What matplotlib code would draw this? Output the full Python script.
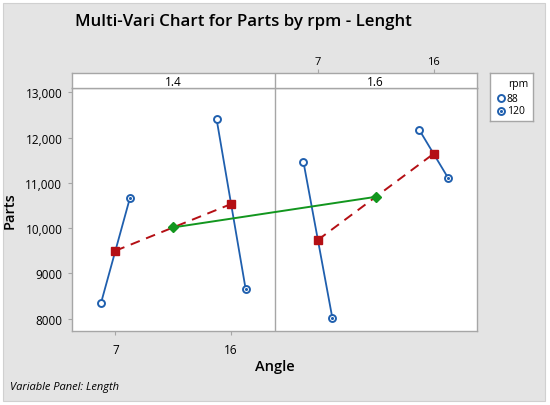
import matplotlib
matplotlib.use("Agg")
import matplotlib.pyplot as plt
from matplotlib.patches import Rectangle
import numpy as np

# ---- data ----
panel_labels = ["1.4", "1.6"]          # Length
angles = [7, 16]                        # Angle
rpm_levels = ["88", "120"]              # rpm
parts_88 = [[8340, 12400], [11465, 12175]]    # [panel][angle]
parts_120 = [[10660, 8665], [8015, 11110]]
yticks = [8000, 9000, 10000, 11000, 12000, 13000]
ytick_labels = ["8000", "9000", "10,000", "11,000", "12,000", "13,000"]

# ---- style ----
BLUE = "#1f5fae"
RED = "#b40f14"
GREEN = "#12961e"
GRID = "#a6a6a6"
BG = "#e4e4e4"
FONT = ["Open Sans", "DejaVu Sans"]
plt.rcParams['font.family'] = FONT

W, H = 550, 406
fig = plt.figure(figsize=(W / 100, H / 100), dpi=100)
fig.patch.set_facecolor("white")
fig.patches.append(Rectangle((3 / W, 4 / H), (545 - 3) / W, (402 - 4) / H,
                             transform=fig.transFigure, facecolor=BG,
                             edgecolor="#d0d0d0", lw=0.8, zorder=-10))

# layout of panels in data units
pad = 0.375
step = 1.0
pwidth = 2 * pad + step
off = 0.125


def open_marker(a, x, y, ms=5, z=5):
    a.plot(x, y, 'o', ms=ms, mfc="white", mec=BLUE, mew=1.4, zorder=z, clip_on=False)


def dot_marker(a, x, y, ms=5, z=5):
    open_marker(a, x, y, ms, z)
    a.plot(x, y, 'o', ms=ms * 0.44, mfc=BLUE, mec=BLUE, mew=0, zorder=z + 1, clip_on=False)


L, R, T, B = 72, 477, 89, 331.7
ax = fig.add_axes([L / W, 1 - B / H, (R - L) / W, (B - T) / H])
ax.set_facecolor("white")
ax.set_xlim(-pad, 2 * pwidth - pad)
ax.set_ylim(7735, 13095)

p88 = np.array(parts_88, dtype=float)
p120 = np.array(parts_120, dtype=float)
cell_means = (p88 + p120) / 2
panel_means = cell_means.mean(axis=1)

green_x, green_y = [], []
for p in range(len(panel_labels)):
    base = p * pwidth
    xs = [base + a * step for a in range(len(angles))]
    for a in range(len(angles)):
        x = xs[a]
        ax.plot([x - off, x + off], [p88[p, a], p120[p, a]], color=BLUE, lw=1.3, zorder=2)
        open_marker(ax, [x - off], [p88[p, a]])
        dot_marker(ax, [x + off], [p120[p, a]])
    ax.plot(xs, cell_means[p], color=RED, lw=1.4, ls=(0, (5, 3.5)), zorder=3)
    ax.plot(xs, cell_means[p], 's', ms=6, color=RED, zorder=8)
    green_x.append((xs[0] + xs[-1]) / 2)
    green_y.append(panel_means[p])
ax.plot(green_x, green_y, color=GREEN, lw=1.4, zorder=4)
ax.plot(green_x, green_y, 'D', ms=5.5, color=GREEN, zorder=8)

ax.axvline(pwidth - pad, color=GRID, lw=1.0, zorder=1)
for s in ax.spines.values():
    s.set_color(GRID)
    s.set_linewidth(1.0)

ax.set_yticks(yticks)
ax.set_yticklabels(ytick_labels, fontsize=8.5)
ax.set_xticks([a * step for a in range(len(angles))])
ax.set_xticklabels([str(v) for v in angles], fontsize=8.5)
ax.tick_params(axis='both', color=GRID, length=3)
ax.tick_params(axis='x', pad=6)
ax.tick_params(axis='y', pad=4)
ax.set_ylabel("Parts", fontsize=10.5, fontweight="semibold", labelpad=6)
ax.set_xlabel("Angle", fontsize=10.5, fontweight="semibold", labelpad=2)

# strip
ST = 74
sax = fig.add_axes([L / W, 1 - T / H, (R - L) / W, (T - ST) / H])
sax.set_facecolor("white")
sax.set_xlim(ax.get_xlim())
sax.set_ylim(0, 1)
sax.axvline(pwidth - pad, color=GRID, lw=1.0)
for s in sax.spines.values():
    s.set_color(GRID)
    s.set_linewidth(1.0)
for p, lab in enumerate(panel_labels):
    sax.text(p * pwidth - pad + pwidth / 2, 0.45, lab, ha="center", va="center", fontsize=8.5)
sax.set_yticks([])
sax.xaxis.tick_top()
sax.set_xticks([pwidth + a * step for a in range(len(angles))])
sax.set_xticklabels([str(v) for v in angles], fontsize=8)
sax.tick_params(axis='x', color=GRID, length=3, pad=1)

# title
fig.text(75 / W, 1 - 22 / H, "Multi-Vari Chart for Parts by rpm - Lenght",
         ha="left", va="center", fontsize=12.2, fontweight="semibold")

# legend (manual box)
LX0, LX1, LY0, LY1 = 490, 533, 74, 122
lax = fig.add_axes([LX0 / W, 1 - LY1 / H, (LX1 - LX0) / W, (LY1 - LY0) / H])
lax.set_xlim(LX0, LX1)
lax.set_ylim(LY1, LY0)
lax.set_facecolor("white")
lax.set_xticks([])
lax.set_yticks([])
for s in lax.spines.values():
    s.set_color(GRID)
    s.set_linewidth(1.0)
lax.text(528, 84, "rpm", ha="right", va="center", fontsize=7.5)
entry_y = [99, 112]
for i, lab in enumerate(rpm_levels):
    if i == 0:
        open_marker(lax, [501.5], [entry_y[i]], ms=5)
    else:
        dot_marker(lax, [501.5], [entry_y[i]], ms=5)
    lax.text(507, entry_y[i], lab, ha="left", va="center", fontsize=7.5)

fig.text(10 / W, 1 - 388 / H, "Variable Panel: Length", ha="left", va="center",
         fontsize=8, style="italic")

fig.savefig("out.png", dpi=100, facecolor=fig.get_facecolor())
